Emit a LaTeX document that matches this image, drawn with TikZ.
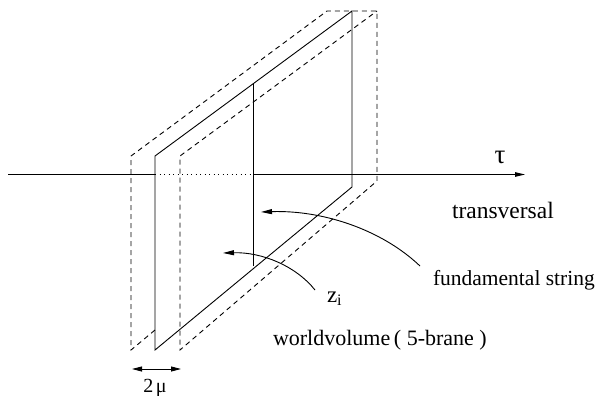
\documentclass[tikz,border=0pt]{standalone}
\usepackage{fontspec}
\setmainfont{Liberation Serif}
\usetikzlibrary{arrows.meta}
\tikzset{
  ln/.style={line width=0.9pt, black},
  dsh/.style={line width=0.9pt, black, dash pattern=on 5pt off 4pt},
  dtt/.style={line width=0.9pt, black, dash pattern=on 1pt off 3.5pt},
  tip/.style={-{Triangle[length=11pt,width=5pt]}},
  lbl/.style={inner sep=0pt, outer sep=0pt},
}
\begin{document}
\begin{tikzpicture}[x=1pt,y=-1pt]
\useasboundingbox (0,0) rectangle (600,396);
% axis
\coordinate (axL) at (8,174.5);
\coordinate (axA) at (155,174.5);
\coordinate (axB) at (253,174.5);
\coordinate (axR) at (525,174.5);
% solid frame
\coordinate (sTL) at (155,156);
\coordinate (sTR) at (352,11);
\coordinate (sBR) at (352,187);
\coordinate (sBL) at (155,350);
% string
\coordinate (fT) at (253,84);
\coordinate (fB) at (253,266);
% left dashed frame
\coordinate (lTL) at (131,156);
\coordinate (lTR) at (327,11);
\coordinate (lBL) at (131,350);
\coordinate (lBH) at (155,330);
% right dashed frame
\coordinate (rTL) at (180,156);
\coordinate (rTR) at (377,11);
\coordinate (rBR) at (377,181);
\coordinate (rBL) at (180,350);

\draw[ln] (axL) -- (axA);
\draw[dtt] (axA) -- (axB);
\draw[ln, -{Triangle[length=10pt,width=4.5pt]}] (axB) -- (axR);

\draw[ln] (sTL) -- (sTR) -- (sBR) -- (sBL) -- cycle;
\draw[ln] (fT) -- (fB);

\draw[dsh] (lBH) -- (lBL) -- (lTL) -- (lTR) -- (rTR) -- (rBR) -- (rBL) -- (rTL) -- (rTR);

% labels
\node[lbl, font=\fontsize{27}{30}\selectfont] (tau) at (500,157) {τ};
\node[lbl, anchor=base west, font=\fontsize{23.5}{27}\selectfont] (trans) at (452,218) {transversal};
\node[lbl, anchor=base west, font=\fontsize{21.5}{25}\selectfont] (fund) at (433,285) {fundamental string};
\node[lbl, anchor=base west, font=\fontsize{22}{26}\selectfont] (wv) at (273,345) {worldvolume\,( 5-brane )};
\node[lbl, anchor=base west, font=\fontsize{23}{27}\selectfont] (zi) at (327,302) {z\raisebox{-0.3ex}{\fontsize{16}{18}\selectfont i}};
\node[lbl, font=\fontsize{20}{24}\selectfont] (mu) at (155,388) {2\hspace{2.5pt}μ};

% arrows
\coordinate (fS) at (420,266);
\coordinate (fE) at (261,212);
\draw[ln, tip] (fS) .. controls (380,228) and (320,210) .. (fE);
\coordinate (zS) at (315,290);
\coordinate (zE) at (223,253);
\draw[ln, tip] (zS) .. controls (296,266) and (262,252) .. (zE);
\coordinate (mL) at (132,369);
\coordinate (mR) at (181,369);
\draw[ln, {Triangle[length=10pt,width=5pt]}-{Triangle[length=10pt,width=5pt]}] (mL) -- (mR);
\end{tikzpicture}
\end{document}
